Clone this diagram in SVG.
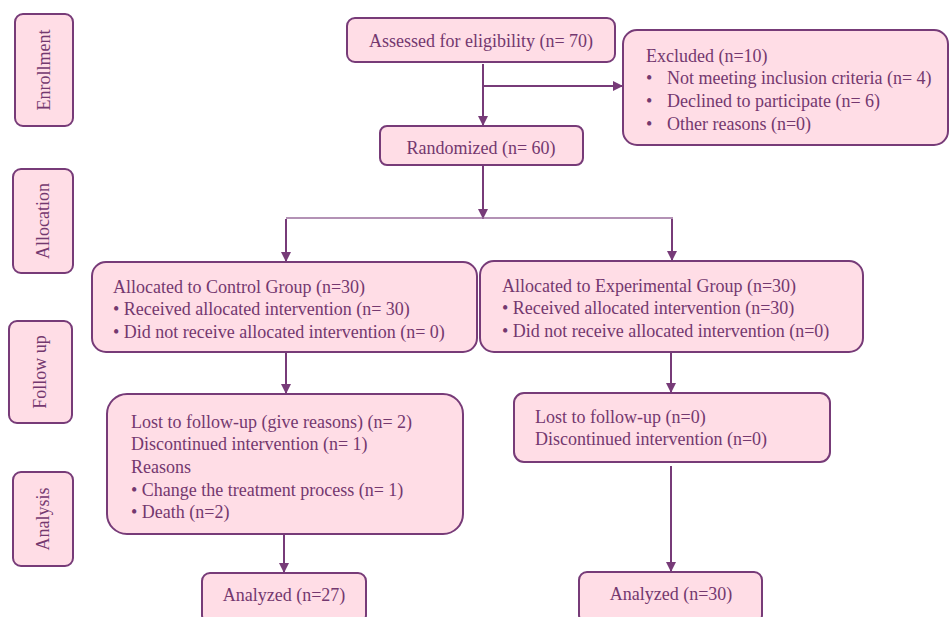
<svg xmlns="http://www.w3.org/2000/svg" width="950" height="617" viewBox="0 0 950 617">
<defs>
<marker id="ah" viewBox="0 0 10 10" refX="10" refY="5" markerWidth="10" markerHeight="10" markerUnits="userSpaceOnUse" orient="auto">
<path d="M0,0 L10,5 L0,10 Z" fill="#773B78"/>
</marker>
<style>
.box{fill:#FFDDE6;stroke:#773B78;stroke-width:2}
.t{font-family:"Liberation Serif","Times New Roman",serif;font-size:18px;fill:#74386F}
.c{stroke:#773B78;stroke-width:2;fill:none}
.thin{stroke:#9A6E9C;stroke-width:1.5;fill:none}
</style>
</defs>
<rect width="950" height="617" fill="#fff"/>
<g id="side-enrollment"><rect class="box" x="15" y="14" width="58" height="112" rx="8"/><text class="t" transform="translate(50,70) rotate(-90)" text-anchor="middle">Enrollment</text></g>
<g id="side-allocation"><rect class="box" x="13" y="169" width="60" height="104" rx="8"/><text class="t" transform="translate(49,221) rotate(-90)" text-anchor="middle">Allocation</text></g>
<g id="side-followup"><rect class="box" x="9" y="321" width="63" height="102" rx="8"/><text class="t" transform="translate(46,372) rotate(-90)" text-anchor="middle">Follow up</text></g>
<g id="side-analysis"><rect class="box" x="13" y="472" width="60" height="94" rx="8"/><text class="t" transform="translate(49,519) rotate(-90)" text-anchor="middle">Analysis</text></g>

<g id="connectors">
<line class="c" x1="483" y1="64" x2="483" y2="126" marker-end="url(#ah)"/>
<line class="c" x1="483" y1="86" x2="623" y2="86" marker-end="url(#ah)"/>
<line class="c" x1="483" y1="165" x2="483" y2="219" marker-end="url(#ah)"/>
<line class="thin" x1="286" y1="218" x2="673" y2="218"/>
<line class="c" x1="286" y1="219" x2="286" y2="262" marker-end="url(#ah)"/>
<line class="c" x1="672" y1="219" x2="672" y2="261" marker-end="url(#ah)"/>
<line class="c" x1="286" y1="352" x2="286" y2="394" marker-end="url(#ah)"/>
<line class="c" x1="671" y1="352" x2="671" y2="393" marker-end="url(#ah)"/>
<line class="c" x1="284" y1="534" x2="284" y2="573" marker-end="url(#ah)"/>
<line class="c" x1="671" y1="466" x2="671" y2="572" marker-end="url(#ah)"/>
</g>

<g id="assessed"><rect class="box" x="347" y="18" width="268" height="44" rx="8"/><text class="t" x="481" y="47" text-anchor="middle">Assessed for eligibility (n= 70)</text></g>
<g id="excluded"><rect class="box" x="623" y="30" width="325" height="115" rx="14"/>
<text class="t" x="646" y="62">Excluded (n=10)</text>
<text class="t" x="646" y="84">•</text><text class="t" x="667" y="84">Not meeting inclusion criteria (n= 4)</text>
<text class="t" x="646" y="107">•</text><text class="t" x="667" y="107">Declined to participate (n= 6)</text>
<text class="t" x="646" y="130">•</text><text class="t" x="667" y="130">Other reasons (n=0)</text>
</g>
<g id="randomized"><rect class="box" x="380" y="126" width="203" height="39" rx="7"/><text class="t" x="481" y="154" text-anchor="middle">Randomized (n= 60)</text></g>
<g id="control"><rect class="box" x="92" y="262" width="385" height="90" rx="14"/>
<text class="t" x="113" y="293">Allocated to Control Group (n=30)</text>
<text class="t" x="113" y="315">• Received allocated intervention (n= 30)</text>
<text class="t" x="113" y="338">• Did not receive allocated intervention (n= 0)</text>
</g>
<g id="experimental"><rect class="box" x="480" y="261" width="383" height="91" rx="14"/>
<text class="t" x="502" y="292">Allocated to Experimental Group (n=30)</text>
<text class="t" x="502" y="314">• Received allocated intervention (n=30)</text>
<text class="t" x="502" y="337">• Did not receive allocated intervention (n=0)</text>
</g>
<g id="lost-control"><rect class="box" x="107" y="394" width="356" height="140" rx="20"/>
<text class="t" x="131" y="428">Lost to follow-up (give reasons) (n= 2)</text>
<text class="t" x="131" y="450">Discontinued intervention (n= 1)</text>
<text class="t" x="131" y="473">Reasons</text>
<text class="t" x="131" y="496">• Change the treatment process (n= 1)</text>
<text class="t" x="131" y="518">• Death (n=2)</text>
</g>
<g id="lost-exp"><rect class="box" x="514" y="393" width="316" height="69" rx="10"/>
<text class="t" x="535" y="423">Lost to follow-up (n=0)</text>
<text class="t" x="535" y="445">Discontinued intervention (n=0)</text>
</g>
<g id="analyzed-control"><rect class="box" x="202" y="573" width="164" height="50" rx="8"/><text class="t" x="284" y="601" text-anchor="middle">Analyzed (n=27)</text></g>
<g id="analyzed-exp"><rect class="box" x="579" y="572" width="183" height="51" rx="8"/><text class="t" x="671" y="600" text-anchor="middle">Analyzed (n=30)</text></g>
</svg>
